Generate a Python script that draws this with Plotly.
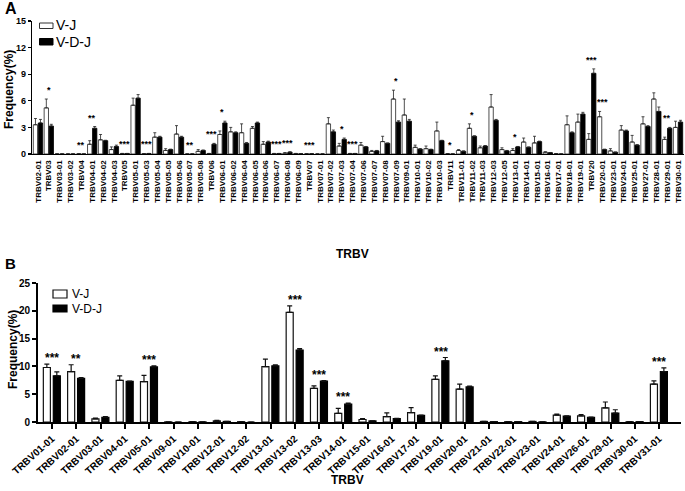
import plotly.graph_objects as go

W, H = 685, 491

# ---------------- Panel A data ----------------
catsA = ["TRBV02-01", "TRBV03", "TRBV03-01", "TRBV03-02", "TRBV04", "TRBV04-01", "TRBV04-02",
         "TRBV04-03", "TRBV05", "TRBV05-01", "TRBV05-03", "TRBV05-04", "TRBV05-05", "TRBV05-06",
         "TRBV05-07", "TRBV05-08", "TRBV06", "TRBV06-01", "TRBV06-02", "TRBV06-04", "TRBV06-05",
         "TRBV06-06", "TRBV06-07", "TRBV06-08", "TRBV06-09", "TRBV07", "TRBV07-01", "TRBV07-02",
         "TRBV07-03", "TRBV07-04", "TRBV07-06", "TRBV07-07", "TRBV07-08", "TRBV07-09", "TRBV09-01",
         "TRBV10-01", "TRBV10-02", "TRBV10-03", "TRBV11", "TRBV11-01", "TRBV11-02", "TRBV11-03",
         "TRBV12-03", "TRBV12-05", "TRBV13-01", "TRBV14-01", "TRBV15-01", "TRBV16-01", "TRBV17-01",
         "TRBV18-01", "TRBV19-01", "TRBV20", "TRBV20-01", "TRBV23-01", "TRBV24-01", "TRBV25-01",
         "TRBV27-01", "TRBV28-01", "TRBV29-01", "TRBV30-01"]
vjA = [3.3, 5.2, 0, 0, 0.02, 1.1, 1.6, 0.5, 0.05, 5.5, 0.03, 1.9, 0.4, 2.25, 0, 0.3, 0.05, 2.2, 2.5,
       2.4, 2.9, 1.1, 0.05, 0.1, 0.05, 0.02, 0, 3.4, 0.9, 0.05, 1.0, 0.3, 1.4, 6.2, 4.4, 0.75, 0.6,
       2.6, 0.02, 0.4, 2.9, 0.7, 5.3, 0.5, 0.4, 1.35, 1.25, 0.2, 0.03, 3.3, 3.6, 1.65, 4.2, 0.35,
       2.7, 1.35, 3.4, 6.2, 1.65, 3.0]
vjA_sem = [0.7, 1.0, 0, 0, 0, 0.4, 0.6, 0.3, 0.02, 0.8, 0.02, 0.5, 0.2, 0.95, 0, 0.2, 0.02, 0.4, 0.5,
           1.0, 0.2, 0.3, 0.02, 0.05, 0.02, 0.01, 0, 0.7, 0.3, 0.02, 0.3, 0.1, 0.6, 1.0, 1.8, 0.25,
           0.3, 1.0, 0.01, 0.1, 0.5, 0.2, 1.4, 0.2, 0.2, 0.45, 0.75, 0.05, 0.02, 1.0, 0.9, 0.65,
           0.6, 0.25, 0.5, 0.75, 0.8, 0.7, 0.25, 0.7]
vdjA = [3.5, 3.15, 0, 0, 0, 2.9, 1.5, 0.85, 0.05, 6.3, 0.05, 1.9, 0.5, 1.9, 0, 0.4, 1.1, 3.5, 2.4,
        1.2, 3.5, 1.35, 0.05, 0.2, 0.02, 0.02, 0, 2.5, 1.65, 0.05, 0.8, 0.35, 1.2, 3.6, 3.7, 0.55,
        0.5, 1.5, 0, 0.3, 2.0, 0.9, 3.8, 0.35, 0.8, 0.75, 1.4, 0.15, 0, 2.4, 4.5, 9.1, 0.5, 0.2,
        2.6, 1.0, 3.1, 4.8, 2.9, 3.6]
vdjA_sem = [0.4, 0.2, 0, 0, 0, 0.2, 0.05, 0.15, 0.02, 0.4, 0.02, 0.1, 0.05, 0.1, 0, 0.05, 0.1, 0.2,
            0.1, 0.1, 0.1, 0.1, 0.02, 0.05, 0.01, 0.01, 0, 0.2, 0.15, 0.02, 0.05, 0.05, 0.05, 0.15,
            0.2, 0.05, 0.05, 0.05, 0, 0.05, 0.05, 0.05, 0.1, 0.05, 0.05, 0.05, 0.05, 0.02, 0, 0.1,
            0.2, 0.5, 0.05, 0.02, 0.1, 0.05, 0.1, 0.5, 0.1, 0.2]
starsA = {"TRBV03": "*", "TRBV04": "**", "TRBV04-01": "**", "TRBV05": "***", "TRBV05-03": "***",
          "TRBV05-07": "**", "TRBV06": "***", "TRBV06-01": "*", "TRBV06-07": "***",
          "TRBV06-08": "***", "TRBV07": "***", "TRBV07-03": "*", "TRBV07-04": "***",
          "TRBV07-09": "*", "TRBV11": "*", "TRBV11-02": "*", "TRBV13-01": "*", "TRBV20": "***",
          "TRBV20-01": "***", "TRBV29-01": "**"}

# ---------------- Panel B data ----------------
catsB = ["TRBV01-01", "TRBV02-01", "TRBV03-01", "TRBV04-01", "TRBV05-01", "TRBV09-01", "TRBV10-01",
         "TRBV12-01", "TRBV12-02", "TRBV13-01", "TRBV13-02", "TRBV13-03", "TRBV14-01", "TRBV15-01",
         "TRBV16-01", "TRBV17-01", "TRBV19-01", "TRBV20-01", "TRBV21-01", "TRBV22-01", "TRBV23-01",
         "TRBV24-01", "TRBV26-01", "TRBV29-01", "TRBV30-01", "TRBV31-01"]
vjB = [9.8, 9.05, 0.55, 7.5, 7.25, 0.02, 0.05, 0.2, 0.05, 9.95, 19.7, 6.05, 1.55, 0.45, 0.95, 1.7,
       7.65, 5.9, 0.1, 0.05, 0.1, 1.25, 1.1, 2.55, 0.05, 6.8]
vjB_sem = [0.6, 1.25, 0.15, 0.8, 1.15, 0, 0.02, 0.1, 0.02, 1.35, 1.2, 0.45, 0.9, 0.15, 0.7, 0.9,
           0.65, 0.9, 0.02, 0.02, 0.02, 0.15, 0.25, 1.05, 0.02, 0.6]
vdjB = [8.3, 7.85, 0.85, 7.3, 9.9, 0, 0.02, 0.1, 0, 10.1, 12.95, 7.35, 3.2, 0.2, 0.6, 1.2, 11.0, 6.3,
        0.05, 0.05, 0.02, 1.05, 0.85, 1.6, 0.05, 9.05]
vdjB_sem = [0.7, 0.15, 0.1, 0.05, 0.2, 0, 0, 0.02, 0, 0.2, 0.25, 0.1, 0.2, 0.02, 0.05, 0.05, 0.6,
            0.15, 0.02, 0.02, 0, 0.05, 0.05, 0.6, 0.02, 0.7]
starsB = {"TRBV01-01": "***", "TRBV02-01": "**", "TRBV05-01": "***", "TRBV13-02": "***",
          "TRBV13-03": "***", "TRBV14-01": "***", "TRBV19-01": "***", "TRBV31-01": "***"}

FONT = "Liberation Sans, Arial, sans-serif"


def px(x):
    return x / W


def py(y):
    return 1 - y / H


fig = go.Figure()

# Panel A bars
wA = 0.40
fig.add_trace(go.Bar(x=catsA, y=vjA, width=wA, offset=-0.43,
                     marker=dict(color="white", line=dict(color="#222", width=0.8)),
                     error_y=dict(type="data", array=vjA_sem, arrayminus=[0] * len(vjA),
                                  symmetric=False, color="#222", thickness=0.8, width=1.5),
                     xaxis="x", yaxis="y", showlegend=False, hoverinfo="skip"))
fig.add_trace(go.Bar(x=catsA, y=vdjA, width=wA, offset=0.03,
                     marker=dict(color="black", line=dict(color="black", width=0.8)),
                     error_y=dict(type="data", array=vdjA_sem, arrayminus=[0] * len(vdjA),
                                  symmetric=False, color="#222", thickness=0.8, width=1.5),
                     xaxis="x", yaxis="y", showlegend=False, hoverinfo="skip"))

# Panel B bars
wB = 0.29
fig.add_trace(go.Bar(x=catsB, y=vjB, width=wB, offset=-0.36,
                     marker=dict(color="white", line=dict(color="#111", width=1.2)),
                     error_y=dict(type="data", array=vjB_sem, arrayminus=[0] * len(vjB),
                                  symmetric=False, color="#111", thickness=1.2, width=2.5),
                     xaxis="x2", yaxis="y2", showlegend=False, hoverinfo="skip"))
fig.add_trace(go.Bar(x=catsB, y=vdjB, width=wB, offset=0.05,
                     marker=dict(color="black", line=dict(color="black", width=1.2)),
                     error_y=dict(type="data", array=vdjB_sem, arrayminus=[0] * len(vdjB),
                                  symmetric=False, color="#111", thickness=1.2, width=2.5),
                     xaxis="x2", yaxis="y2", showlegend=False, hoverinfo="skip"))

annotations = []
for c, s in starsA.items():
    i = catsA.index(c)
    top = max(vjA[i] + vjA_sem[i], vdjA[i] + vdjA_sem[i])
    annotations.append(dict(x=c, y=top, xref="x", yref="y", text=f"<b>{s}</b>", showarrow=False,
                            yanchor="bottom", yshift=2,
                            font=dict(family=FONT, size=9, color="black")))
for c, s in starsB.items():
    i = catsB.index(c)
    top = max(vjB[i] + vjB_sem[i], vdjB[i] + vdjB_sem[i])
    annotations.append(dict(x=c, y=top, xref="x2", yref="y2", text=f"<b>{s}</b>", showarrow=False,
                            yanchor="bottom", yshift=-3,
                            font=dict(family=FONT, size=12, color="black")))

# Panel letters, axis titles, legend texts
annotations += [
    dict(x=px(3), y=py(9), xref="paper", yref="paper", text="<b>A</b>", showarrow=False,
         xanchor="left", yanchor="middle", font=dict(family=FONT, size=16, color="black")),
    dict(x=px(3), y=py(263), xref="paper", yref="paper", text="<b>B</b>", showarrow=False,
         xanchor="left", yanchor="middle", font=dict(family=FONT, size=15, color="black")),
    dict(x=px(9), y=py(90), xref="paper", yref="paper", text="<b>Frequency(%)</b>", showarrow=False,
         textangle=-90, xanchor="center", yanchor="middle",
         font=dict(family=FONT, size=12, color="black")),
    dict(x=px(13), y=py(350), xref="paper", yref="paper", text="<b>Frequency(%)</b>",
         showarrow=False, textangle=-90, xanchor="center", yanchor="middle",
         font=dict(family=FONT, size=12, color="black")),
    dict(x=px(352), y=py(254), xref="paper", yref="paper", text="<b>TRBV</b>", showarrow=False,
         xanchor="center", yanchor="middle", font=dict(family=FONT, size=12, color="black")),
    dict(x=px(348), y=py(480), xref="paper", yref="paper", text="<b>TRBV</b>", showarrow=False,
         xanchor="center", yanchor="middle", font=dict(family=FONT, size=12, color="black")),
    dict(x=px(54), y=py(25.5), xref="paper", yref="paper", text="V-J", showarrow=False,
         xanchor="left", yanchor="middle", font=dict(family=FONT, size=14, color="black")),
    dict(x=px(54), y=py(42), xref="paper", yref="paper", text="V-D-J", showarrow=False,
         xanchor="left", yanchor="middle", font=dict(family=FONT, size=14, color="black")),
    dict(x=px(70), y=py(294), xref="paper", yref="paper", text="V-J", showarrow=False,
         xanchor="left", yanchor="middle", font=dict(family=FONT, size=12, color="black")),
    dict(x=px(70), y=py(309), xref="paper", yref="paper", text="V-D-J", showarrow=False,
         xanchor="left", yanchor="middle", font=dict(family=FONT, size=12, color="black")),
]

shapes = [
    dict(type="rect", xref="paper", yref="paper", x0=px(39.5), x1=px(53), y0=py(23), y1=py(28.5),
         fillcolor="white", line=dict(color="#333", width=1)),
    dict(type="rect", xref="paper", yref="paper", x0=px(39.5), x1=px(53), y0=py(38.5), y1=py(45),
         fillcolor="black", line=dict(color="black", width=1)),
    dict(type="rect", xref="paper", yref="paper", x0=px(53), x1=px(67), y0=py(290), y1=py(298),
         fillcolor="white", line=dict(color="#111", width=1.2)),
    dict(type="rect", xref="paper", yref="paper", x0=px(53), x1=px(67), y0=py(305), y1=py(312),
         fillcolor="black", line=dict(color="black", width=1.2)),
]

tickfontA = dict(family=FONT, size=8, color="black", weight="bold")
tickfontB = dict(family=FONT, size=10, color="black", weight="bold")

fig.update_layout(
    template="none",
    width=W, height=H, margin=dict(l=0, r=0, t=0, b=0, autoexpand=False),
    paper_bgcolor="white", plot_bgcolor="white",
    font=dict(family=FONT, color="black"),
    barmode="overlay", hovermode=False,
    annotations=annotations, shapes=shapes,
    xaxis=dict(domain=[px(32), px(684)], anchor="y", type="category", automargin=False,
               range=[-0.55, len(catsA) - 0.45], tickangle=-90, tickfont=tickfontA,
               showline=True, linecolor="black", linewidth=1.2, ticks="", showgrid=False,
               zeroline=False, ticklabelstandoff=2),
    yaxis=dict(domain=[py(154), py(21)], anchor="x", range=[0, 15], tickvals=[0, 3, 6, 9, 12, 15],
               automargin=False,
               tickfont=dict(family=FONT, size=9, color="black", weight="bold"),
               showline=True, linecolor="black", linewidth=1.2, ticks="outside", ticklen=3,
               tickwidth=1.2, tickcolor="black", showgrid=False, zeroline=False),
    xaxis2=dict(domain=[px(38), px(681)], anchor="y2", type="category", automargin=False,
                range=[-0.58, len(catsB) - 0.1], tickangle=-42, tickfont=tickfontB,
                showline=True, linecolor="black", linewidth=2, ticks="outside", ticklen=5,
                tickwidth=2, tickcolor="black", showgrid=False, zeroline=False),
    yaxis2=dict(domain=[py(422), py(283)], anchor="x2", range=[0, 25],
                tickvals=[0, 5, 10, 15, 20, 25], automargin=False,
                tickfont=dict(family=FONT, size=10, color="black", weight="bold"),
                showline=True, linecolor="black", linewidth=2, ticks="outside", ticklen=4,
                tickwidth=2, tickcolor="black", showgrid=False, zeroline=False),
)

fig.write_html("out.html", config={"displayModeBar": False, "staticPlot": True},
               post_script="document.body.style.margin='0';document.body.style.overflow='hidden';")
